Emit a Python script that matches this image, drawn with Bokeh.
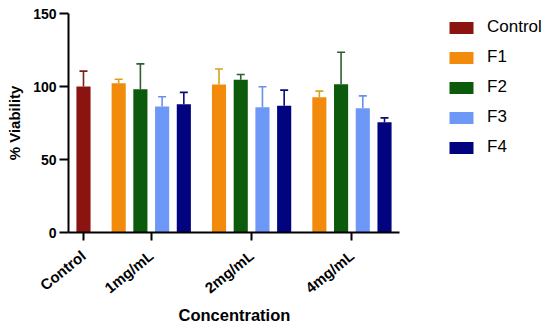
from bokeh.plotting import figure
from bokeh.models import (ColumnDataSource, Range1d, FixedTicker, Whisker, TeeHead,
                          Legend, LegendItem, Title)
from bokeh.embed import file_html
from bokeh.resources import INLINE

# ---- data ----
groups = ["1mg/mL", "2mg/mL", "4mg/mL"]
control_label = "Control"
control_mean = [100.0]
control_err = [10.5]
series = ["F1", "F2", "F3", "F4"]
F1 = [102.3, 101.4, 92.7]
F1_err = [2.7, 10.6, 4.1]
F2 = [98.2, 104.6, 101.6]
F2_err = [17.3, 3.6, 21.9]
F3 = [86.3, 85.8, 85.1]
F3_err = [6.7, 14.0, 8.5]
F4 = [87.9, 86.8, 75.5]
F4_err = [8.1, 10.7, 3.0]
y_ticks = [0, 50, 100, 150]

means = {"F1": F1, "F2": F2, "F3": F3, "F4": F4}
errs = {"F1": F1_err, "F2": F2_err, "F3": F3_err, "F4": F4_err}
colors = {"Control": "#8B1410", "F1": "#F28B0C", "F2": "#0C5A0C",
          "F3": "#6E98F8", "F4": "#02037E"}
err_colors = {"Control": "#7B1F16", "F1": "#D9A21B", "F2": "#2E5F2E",
              "F3": "#6A8FEA", "F4": "#0B0B78"}

# ---- positions (slot layout like a grouped factor range) ----
gap = 0.62
pad = 0.69
width = 0.65
pos = 0.0
control_x = [pos + 0.5]
pos += 1 + gap
xs = {s: [] for s in series}
centers = [control_x[0]]
for g in groups:
    gx = []
    for s in series:
        xs[s].append(pos + 0.5)
        gx.append(pos + 0.5)
        pos += 1
    centers.append(sum(gx) / len(gx))
    pos += gap
x_start = control_x[0] - pad
x_end_axis = xs["F4"][-1] + pad

FONT = "Liberation Sans"
W, H = 550, 331
left, top, bottom = 68, 13, 99
axis_px = 331                      # visible axis length in pixels
frame_px = W - left                # frame extends under the legend
x_end = x_start + (x_end_axis - x_start) * frame_px / axis_px

p = figure(width=W, height=H, output_backend="svg", toolbar_location=None,
           x_range=Range1d(x_start, x_end), y_range=Range1d(0, 150),
           min_border_left=left, min_border_right=0, min_border_top=top,
           min_border_bottom=bottom)
p.outline_line_color = None
p.xgrid.visible = False
p.ygrid.visible = False
p.background_fill_color = "white"
p.border_fill_color = "white"

items = []
def add_series(name, x, top_, err):
    src = ColumnDataSource(dict(x=x, top=top_, upper=[t + e for t, e in zip(top_, err)]))
    r = p.vbar(x="x", top="top", width=width, bottom=0, source=src,
               fill_color=colors[name], line_color=None)
    w = Whisker(base="x", lower="top", upper="upper", source=src,
                line_color=err_colors[name], line_width=1.6,
                lower_head=None,
                upper_head=TeeHead(size=8, line_color=err_colors[name], line_width=1.6))
    p.add_layout(w)
    items.append(LegendItem(label=name, renderers=[r]))

add_series("Control", control_x, control_mean, control_err)
for s in series:
    add_series(s, xs[s], means[s], errs[s])

# axes
for ax in (p.xaxis[0], p.yaxis[0]):
    ax.axis_line_width = 2
    ax.axis_line_color = "black"
    ax.major_tick_line_width = 2
    ax.major_tick_line_color = "black"
    ax.minor_tick_line_color = None
    ax.major_tick_in = 0
    ax.major_label_text_font = FONT
    ax.major_label_text_font_style = "bold"
    ax.major_label_text_font_size = "14px"
    ax.major_label_text_color = "black"
    ax.axis_label_text_font = FONT
    ax.axis_label_text_font_style = "bold"
    ax.axis_label_text_font_size = "15px"
    ax.axis_label_text_color = "black"

p.yaxis.ticker = FixedTicker(ticks=y_ticks)
p.yaxis.major_tick_out = 9
p.yaxis.major_label_standoff = 3
p.yaxis.axis_label = "% Viability"
p.yaxis.axis_label_standoff = 7

labels = [control_label] + groups
p.xaxis.ticker = FixedTicker(ticks=centers)
p.xaxis.bounds = (x_start, x_end_axis)
p.xaxis.major_label_overrides = {c: l for c, l in zip(centers, labels)}
p.xaxis.major_label_text_font_size = "15px"
p.xaxis.major_tick_out = 8
p.xaxis.major_label_orientation = 0.68
p.xaxis.major_label_standoff = 13

# x axis title, placed under the centre of the visible axis span
xt = Title(text="Concentration", align="left", offset=110,
           text_font=FONT, text_font_style="bold", text_font_size="16.5px",
           text_color="black", standoff=-4)
p.add_layout(xt, "below")

lg = Legend(items=items, location=(378, 75))
lg.glyph_width = 30
lg.glyph_height = 15
lg.label_height = 20
lg.label_standoff = 11
lg.spacing = 10
lg.padding = 0
lg.margin = 0
lg.border_line_alpha = 0
lg.background_fill_alpha = 0
lg.label_text_font = FONT
lg.label_text_font_size = "17px"
lg.label_text_color = "black"
p.add_layout(lg)

open("out.html", "w").write(file_html(p, INLINE))
